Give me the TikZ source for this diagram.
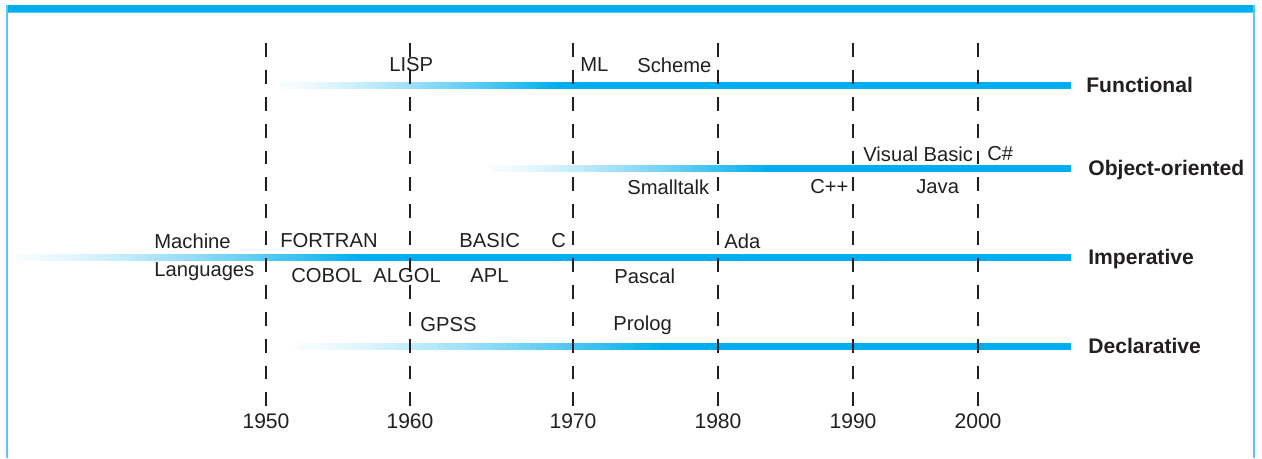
\documentclass[tikz,border=0pt]{standalone}
\usepackage{fontspec}
\setmainfont{Liberation Sans}
\usetikzlibrary{positioning}

\definecolor{brand}{RGB}{0,174,239}
\definecolor{rim}{RGB}{90,200,245}
\definecolor{ink}{RGB}{35,31,32}

% paradigm bar: start, x where colour is full, end, centre y
\newcommand\fadebar[4]{%
    \pgfmathsetmacro\fadestep{(#2-#1)/60}
    \foreach \i in {0,...,59}{
        \pgfmathsetmacro\pct{3+97*(\i/59)^1.3}
        \pgfmathsetmacro\xa{#1+\fadestep*\i}
        \pgfmathsetmacro\xb{#1+\fadestep*(\i+1)+0.6}
        \fill[brand!\pct] (\xa,#4-3.5) rectangle (\xb,#4+3.5);
    }
    \fill[brand] (#2,#4-3.5) rectangle (#3,#4+3.5);
}

\begin{document}
\begin{tikzpicture}[
    x=0.02cm, y=-0.02cm,
    lang/.style={anchor=west, inner sep=0pt, text=ink, font=\fontsize{11.5}{13}\selectfont},
    paradigm/.style={anchor=west, inner sep=0pt, text=ink, font=\fontsize{12}{14}\selectfont\bfseries},
    year/.style={inner sep=1pt, text=ink, font=\fontsize{12}{14}\selectfont},
    era/.style={draw=ink, line width=1.1pt, dash pattern=on 7.9pt off 7.4pt}
]
    \useasboundingbox (0,0) rectangle (1262,458);

    % frame
    \fill[brand] (7,5) rectangle (1255,11.5);
    \draw[rim, line width=0.6pt] (7,12.5) -- (1255,12.5);
    \draw[rim, line width=1.3pt] (7,5) -- (7,458);
    \draw[rim, line width=1.3pt] (1254,5) -- (1254,458);

    % paradigm bars
    \fadebar{280}{560}{1071}{85}
    \fadebar{490}{770}{1071}{168}
    \fadebar{15}{365}{1071}{257}
    \fadebar{297}{665}{1071}{346}

    \node[paradigm] (functional) at (1086,85) {Functional};
    \node[paradigm] (object-oriented) at (1088,170) {Object-oriented};
    \node[paradigm] (imperative) at (1088,259) {Imperative};
    \node[paradigm] (declarative) at (1088,346) {Declarative};

    % years and era lines
    \node[year] (y1950) at (266,421) {1950};
    \node[year] (y1960) at (410,421) {1960};
    \node[year] (y1970) at (573,421) {1970};
    \node[year] (y1980) at (718,421) {1980};
    \node[year] (y1990) at (853,421) {1990};
    \node[year] (y2000) at (978,421) {2000};

    \coordinate (t1950) at (266,43);
    \coordinate (t1960) at (410,43);
    \coordinate (t1970) at (573,43);
    \coordinate (t1980) at (718,43);
    \coordinate (t1990) at (853,43);
    \coordinate (t2000) at (978,43);

    \draw[era] (t1950) -- (y1950.north);
    \draw[era] (t1960) -- (y1960.north);
    \draw[era] (t1970) -- (y1970.north);
    \draw[era] (t1980) -- (y1980.north);
    \draw[era] (t1990) -- (y1990.north);
    \draw[era] (t2000) -- (y2000.north);

    % functional
    \node[lang] (lisp) at (389,65) {LISP};
    \node[lang] (ml) at (580,65) {ML};
    \node[lang] (scheme) at (637,65) {Scheme};

    % object-oriented
    \node[lang] (visual-basic) at (863,154) {Visual Basic};
    \node[lang] (c-sharp) at (987,154) {C\#};
    \node[lang] (smalltalk) at (627,187) {Smalltalk};
    \node[lang] (c-plus-plus) at (810,187) {C++};
    \node[lang] (java) at (916,187) {Java};

    % imperative
    \node[lang] (machine) at (154,241) {Machine};
    \node[lang] (languages) at (154,272) {Languages};
    \node[lang] (fortran) at (280,241) {FORTRAN};
    \node[lang] (basic) at (459,241) {BASIC};
    \node[lang] (c) at (551,241) {C};
    \node[lang] (ada) at (724,241) {Ada};
    \node[lang] (cobol) at (291,276) {COBOL};
    \node[lang] (algol) at (373,276) {ALGOL};
    \node[lang] (apl) at (470,276) {APL};
    \node[lang] (pascal) at (614,276) {Pascal};

    % declarative
    \node[lang] (gpss) at (420,325) {GPSS};
    \node[lang] (prolog) at (613,325) {Prolog};
\end{tikzpicture}
\end{document}
